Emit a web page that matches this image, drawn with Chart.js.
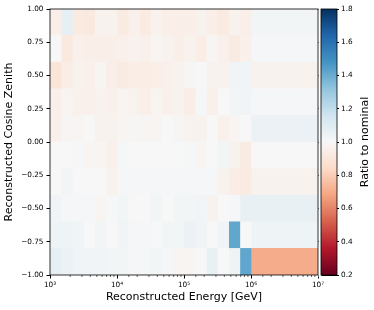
<!DOCTYPE html>
<html>
<head>
<meta charset="utf-8">
<script src="https://cdn.jsdelivr.net/npm/chart.js@4/dist/chart.umd.min.js"></script>
<style>
  body { margin: 0; background: #fff; }
  #wrap { width: 374px; height: 310px; }
</style>
</head>
<body>
<div id="wrap"><canvas id="ratioMap" width="374" height="310"></canvas></div>
<script>
// energy bin edges in GeV (6 bins per decade up to 1 PeV, then one wide bin)
const energyEdges = [1000, 1468, 2154, 3162, 4642, 6813, 10000, 14678, 21544, 31623, 46416, 68129,
    100000, 146780, 215443, 316228, 464159, 681292, 1000000, 10000000];

// cos(zenith) bin centres, top row first
const zenithCenters = [0.9, 0.7, 0.5, 0.3, 0.1, -0.1, -0.3, -0.5, -0.7, -0.9];

// ratio to nominal, one row per zenith bin (same order as zenithCenters)
const ratioRows = [
    [0.95, 1.07, 0.93, 0.92, 0.97, 0.97, 0.93, 0.96, 0.93, 0.97, 0.95, 0.95, 0.95, 0.97, 0.95, 0.93, 0.97, 0.95, 1.02],
    [1.00, 0.92, 0.96, 0.95, 0.95, 0.95, 0.96, 0.97, 0.96, 0.98, 0.97, 0.95, 0.97, 0.94, 0.99, 0.96, 0.93, 0.96, 1.01],
    [0.90, 0.94, 0.97, 0.96, 0.98, 0.95, 0.93, 0.94, 0.94, 0.95, 0.96, 0.97, 0.99, 1.00, 0.97, 0.97, 1.03, 1.03, 0.97],
    [0.96, 0.98, 0.96, 0.96, 0.97, 0.96, 0.98, 0.97, 0.95, 0.98, 0.96, 0.97, 0.94, 1.01, 0.96, 1.00, 1.02, 1.03, 1.01],
    [0.96, 0.99, 0.98, 1.00, 0.97, 0.97, 0.98, 0.99, 0.99, 0.98, 1.00, 0.99, 0.97, 0.97, 1.00, 0.96, 0.98, 1.00, 1.05],
    [1.00, 1.00, 1.01, 0.98, 0.98, 0.96, 1.01, 1.00, 1.00, 1.00, 1.00, 1.00, 1.01, 0.98, 1.00, 1.02, 0.97, 0.93, 1.00],
    [1.00, 1.02, 1.00, 1.00, 1.00, 0.97, 1.01, 1.01, 1.01, 1.01, 1.01, 1.01, 1.01, 1.01, 1.01, 0.97, 0.94, 0.93, 0.97],
    [1.03, 1.01, 1.01, 1.01, 0.98, 1.01, 1.02, 1.00, 1.00, 1.02, 1.00, 1.02, 1.02, 1.03, 0.97, 1.00, 1.01, 1.06, 1.06],
    [1.04, 1.04, 1.03, 1.00, 1.02, 1.00, 1.03, 1.01, 1.01, 1.00, 1.02, 1.02, 1.05, 1.03, 1.00, 1.03, 1.42, 1.00, 1.04],
    [1.07, 1.05, 1.03, 1.03, 1.03, 1.02, 1.02, 1.01, 1.01, 1.02, 1.01, 0.98, 0.98, 1.00, 1.06, 1.00, 1.04, 1.42, 0.70]
];

const energyTickLabels = ['10³', '10⁴', '10⁵', '10⁶', '10⁷'];

// matplotlib RdBu
const rdbu = ['#67001f', '#b2182b', '#d6604d', '#f4a582', '#fddbc7', '#f7f7f7',
    '#d1e5f0', '#92c5de', '#4393c3', '#2166ac', '#053061'];
const vmin = 0.2, vmax = 1.8;

function hexRgb(h) {
    return [1, 3, 5].map(i => parseInt(h.substr(i, 2), 16));
}

function ratioColor(v) {
    let t = (v - vmin) / (vmax - vmin);
    t = Math.min(1, Math.max(0, t));
    const p = t * 10;
    const i = Math.min(9, Math.floor(p));
    const f = p - i;
    const a = hexRgb(rdbu[i]), b = hexRgb(rdbu[i + 1]);
    return 'rgb(' + a.map((c, k) => Math.round(c + (b[k] - c) * f)).join(',') + ')';
}

function isDecade(v) {
    const l = Math.log10(v);
    return Math.abs(l - Math.round(l)) < 1e-6;
}

// one floating-bar dataset per energy column
const datasets = [];
for (let j = 0; j < energyEdges.length - 1; j++) {
    datasets.push({
        data: zenithCenters.map(cz => ({ y: cz, x: [energyEdges[j], energyEdges[j + 1]] })),
        backgroundColor: ratioRows.map(row => ratioColor(row[j])),
        borderWidth: 0,
        grouped: false,
        barPercentage: 1,
        categoryPercentage: 1,
        xAxisID: 'x',
        yAxisID: 'y'
    });
}

const tickFont = { family: 'DejaVu Sans', size: 7.3 };
const titleFont = { family: 'DejaVu Sans', size: 11 };

const frameAndColorbar = {
    id: 'frameAndColorbar',
    afterDatasetsDraw(chart) {
        const { ctx, chartArea: a } = chart;
        const cb = chart.scales.cb;
        const xs = chart.scales.x;
        ctx.save();
        // keep the gap between plot and colorbar clean
        ctx.fillStyle = '#fff';
        ctx.fillRect(a.right + 0.5, a.top - 2, 3, a.bottom - a.top + 4);

        const x0 = a.right + 3, w = 16;
        const top = cb.getPixelForValue(vmax), bottom = cb.getPixelForValue(vmin);
        const grad = ctx.createLinearGradient(0, bottom, 0, top);
        rdbu.forEach((c, i) => grad.addColorStop(i / 10, c));
        ctx.fillStyle = grad;
        ctx.fillRect(x0, top, w, bottom - top);
        ctx.strokeStyle = '#000';
        ctx.lineWidth = 0.8;
        ctx.strokeRect(x0, top, w, bottom - top);

        // plot frame
        ctx.strokeRect(a.left, a.top, a.right - a.left, a.bottom - a.top);

        // minor ticks on the energy axis
        ctx.beginPath();
        xs.ticks.forEach(t => {
            if (!isDecade(t.value)) {
                const px = xs.getPixelForValue(t.value);
                ctx.moveTo(px, a.bottom);
                ctx.lineTo(px, a.bottom + 2);
            }
        });
        ctx.lineWidth = 0.6;
        ctx.stroke();

        // colorbar label, reading bottom to top
        ctx.translate(cb.right - 9, (a.top + a.bottom) / 2);
        ctx.rotate(-Math.PI / 2);
        ctx.font = '11px "DejaVu Sans"';
        ctx.textAlign = 'center';
        ctx.textBaseline = 'middle';
        ctx.fillStyle = '#000';
        ctx.fillText('Ratio to nominal', 0, 0);
        ctx.restore();
    }
};

new Chart(document.getElementById('ratioMap').getContext('2d'), {
    type: 'bar',
    data: { datasets: datasets },
    plugins: [frameAndColorbar],
    options: {
        indexAxis: 'y',
        responsive: false,
        animation: false,
        events: [],
        layout: { padding: { top: 9, left: 0, right: 0, bottom: 0 } },
        plugins: { legend: { display: false }, tooltip: { enabled: false } },
        scales: {
            y: {
                type: 'linear',
                position: 'left',
                offset: false,
                min: -1,
                max: 1,
                ticks: {
                    stepSize: 0.25,
                    font: tickFont,
                    color: '#000',
                    padding: 3,
                    callback: v => (v < 0 ? '\u2212' : '') + Math.abs(v).toFixed(2)
                },
                grid: { drawOnChartArea: false, tickLength: 3.5, tickColor: '#000', offset: false },
                border: { display: false },
                title: {
                    display: true,
                    text: 'Reconstructed Cosine Zenith',
                    font: titleFont,
                    color: '#000',
                    padding: { top: 3, bottom: 0 }
                },
                afterFit: s => { s.width = 50; }
            },
            x: {
                type: 'logarithmic',
                position: 'bottom',
                min: 1000,
                max: 10000000,
                ticks: {
                    autoSkip: false,
                    maxRotation: 0,
                    font: tickFont,
                    color: '#000',
                    padding: 2,
                    callback: v => isDecade(v) ? energyTickLabels[Math.round(Math.log10(v)) - 3] : ''
                },
                grid: {
                    drawOnChartArea: false,
                    tickLength: 3.5,
                    tickColor: c => (c.tick && isDecade(c.tick.value)) ? '#000' : 'rgba(0,0,0,0)'
                },
                border: { display: false },
                title: {
                    display: true,
                    text: 'Reconstructed Energy [GeV]',
                    font: titleFont,
                    color: '#000',
                    padding: { top: 0, bottom: 6 }
                },
                afterFit: s => { s.height = 35; }
            },
            cb: {
                type: 'linear',
                position: 'right',
                offset: false,
                min: vmin,
                max: vmax,
                ticks: {
                    stepSize: 0.2,
                    font: tickFont,
                    color: '#000',
                    padding: 2,
                    callback: v => v.toFixed(1)
                },
                grid: { drawOnChartArea: false, tickLength: 21, tickColor: '#000', offset: false },
                border: { display: false },
                afterFit: s => { s.width = 56; }
            }
        }
    }
});
</script>
</body>
</html>
